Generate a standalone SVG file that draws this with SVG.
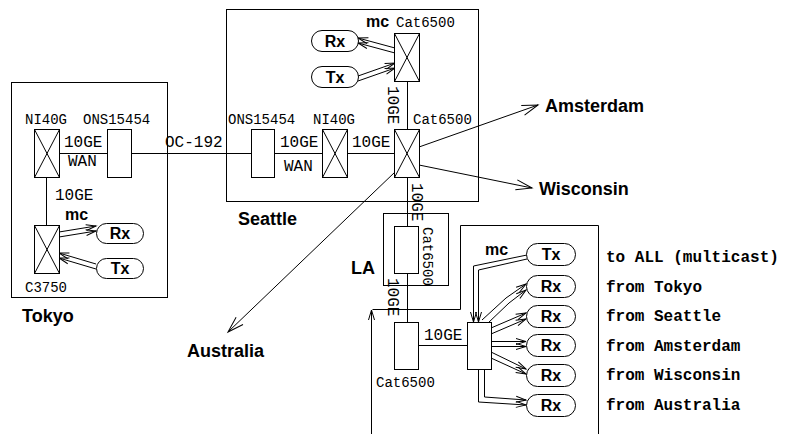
<svg xmlns="http://www.w3.org/2000/svg" width="785" height="434" viewBox="0 0 785 434">
<style>
.bx{fill:#fff;stroke:#000;stroke-width:1}
.ln{fill:none;stroke:#000;stroke-width:1}
.mono{font-family:"Liberation Mono",monospace;font-size:14px;fill:#000}
.m16{font-family:"Liberation Mono",monospace;font-size:16px;fill:#000}
.mb{font-family:"Liberation Mono",monospace;font-size:16px;font-weight:bold;fill:#000}
.b{font-family:"Liberation Sans",Arial,sans-serif;font-weight:bold;font-size:18px;fill:#000}
.b16{font-family:"Liberation Sans",Arial,sans-serif;font-weight:bold;font-size:16px;fill:#000}
.pt{font-family:"Liberation Sans",Arial,sans-serif;font-weight:bold;font-size:16px;fill:#000;text-anchor:middle}
.a{fill:none;stroke:#000;stroke-width:1;marker-end:url(#sa)}
.A{fill:none;stroke:#000;stroke-width:1;marker-end:url(#la)}
</style>
<defs>
<marker id="sa" markerUnits="userSpaceOnUse" markerWidth="12" markerHeight="8" refX="10" refY="3" orient="auto" overflow="visible">
<path d="M0,0 L10,3 L0,6" fill="none" stroke="#000" stroke-width="1"/>
</marker>
<marker id="la" markerUnits="userSpaceOnUse" markerWidth="18" markerHeight="12" refX="16" refY="5" orient="auto" overflow="visible">
<path d="M0,0 L16,5 L0,10" fill="none" stroke="#000" stroke-width="1"/>
</marker>
<g id="xsw"><rect class="bx" x="0" y="0" width="25" height="48"/><path class="ln" d="M0,0 L25,48 M25,0 L0,48"/></g>
</defs>
<rect width="785" height="434" fill="#fff"/>

<g id="tokyo-site">
<rect class="ln" x="11.5" y="82.5" width="156" height="215"/>
<text class="b" x="22" y="322">Tokyo</text>
</g>
<g id="seattle-site">
<rect class="ln" x="226.5" y="9.5" width="252" height="192"/>
<text class="b" x="238" y="225">Seattle</text>
</g>
<g id="la-site">
<rect class="ln" x="383.5" y="213.5" width="65" height="72"/>
<text class="b" x="351" y="274">LA</text>
</g>
<g id="panel">
<path class="ln" d="M372.5,309.5 H460.5 V225.5 H598.5 V434"/>
</g>

<g id="connectors">
<line class="ln" x1="59" y1="153.5" x2="107" y2="153.5"/>
<line class="ln" x1="131" y1="153.5" x2="251" y2="153.5"/>
<line class="ln" x1="275" y1="153.5" x2="322" y2="153.5"/>
<line class="ln" x1="347" y1="153.5" x2="395" y2="153.5"/>
<line class="ln" x1="46.5" y1="177" x2="46.5" y2="225"/>
<line class="ln" x1="407.5" y1="81" x2="407.5" y2="129"/>
<line class="ln" x1="407.5" y1="177" x2="407.5" y2="226"/>
<line class="ln" x1="407.5" y1="273" x2="407.5" y2="322"/>
<line class="ln" x1="418" y1="345.5" x2="467" y2="345.5"/>
<line class="a" x1="59" y1="232" x2="96" y2="226"/>
<line class="a" x1="59" y1="237" x2="96" y2="231"/>
<line class="a" x1="96" y1="264" x2="59" y2="253"/>
<line class="a" x1="96" y1="269" x2="59" y2="258"/>
<line class="a" x1="395" y1="48" x2="358" y2="38"/>
<line class="a" x1="395" y1="53" x2="358" y2="43"/>
<line class="a" x1="358" y1="76" x2="395" y2="63"/>
<line class="a" x1="358" y1="81" x2="395" y2="68"/>
<line class="A" x1="419" y1="147" x2="538" y2="105"/>
<line class="A" x1="419" y1="165" x2="532" y2="188"/>
<line class="A" x1="395" y1="172" x2="228" y2="332"/>
<line class="a" x1="371.5" y1="434" x2="371.5" y2="310"/>
<path class="a" d="M527,255 L473.5,266 V322"/>
<path class="a" d="M527,259 L478.5,270 V322"/>
<path class="a" d="M482,320 L506,298 L526,284"/>
<path class="a" d="M488,323 L509,303 L526,290"/>
<path class="a" d="M491,328 L526,313"/>
<path class="a" d="M491,334 L526,319"/>
<path class="a" d="M491,341.5 L526,341.5"/>
<path class="a" d="M491,346.5 L526,346.5"/>
<path class="a" d="M491,352 L526,369"/>
<path class="a" d="M491,358 L526,374"/>
<path class="a" d="M478.5,369 V402 L526,405"/>
<path class="a" d="M484.5,369 V397 L526,400"/>
</g>

<g id="tokyo-ni40g"><use href="#xsw" x="34.5" y="129.5"/><text class="mono" x="25" y="124">NI40G</text></g>
<g id="tokyo-ons"><rect class="bx" x="107.5" y="129.5" width="24" height="48"/><text class="mono" x="83" y="124">ONS15454</text></g>
<g id="tokyo-c3750"><use href="#xsw" x="34.5" y="225.5"/><text class="mono" x="25" y="292">C3750</text></g>
<g id="tokyo-rx"><rect class="bx" x="96.5" y="223.5" width="47" height="20" rx="10"/><text class="pt" x="120" y="239">Rx</text></g>
<g id="tokyo-tx"><rect class="bx" x="96.5" y="258.5" width="47" height="20" rx="10"/><text class="pt" x="120" y="274">Tx</text></g>
<g id="tokyo-labels">
<text class="m16" x="64" y="147">10GE</text>
<text class="m16" x="68" y="166">WAN</text>
<text class="m16" x="165" y="147">OC-192</text>
<text class="m16" x="55" y="200">10GE</text>
<text class="b16" x="65" y="220">mc</text>
</g>

<g id="seattle-ons"><rect class="bx" x="251.5" y="129.5" width="23" height="48"/><text class="mono" x="228" y="124">ONS15454</text></g>
<g id="seattle-ni40g"><use href="#xsw" x="322.5" y="129.5"/><text class="mono" x="313" y="124">NI40G</text></g>
<g id="seattle-cat-main"><use href="#xsw" x="394.5" y="129.5"/><text class="mono" x="413" y="124">Cat6500</text></g>
<g id="seattle-cat-mc"><use href="#xsw" x="394.5" y="33.5"/><text class="mono" x="396" y="27">Cat6500</text><text class="b16" x="366" y="27">mc</text></g>
<g id="seattle-rx"><rect class="bx" x="311.5" y="30.5" width="47" height="21" rx="10.5"/><text class="pt" x="335" y="47">Rx</text></g>
<g id="seattle-tx"><rect class="bx" x="311.5" y="66.5" width="47" height="21" rx="10.5"/><text class="pt" x="335" y="83">Tx</text></g>
<g id="seattle-labels">
<text class="m16" x="280" y="147">10GE</text>
<text class="m16" x="284" y="171">WAN</text>
<text class="m16" x="352" y="147">10GE</text>
<text class="m16" transform="translate(388,86) rotate(90)">10GE</text>
<text class="m16" transform="translate(412,183) rotate(90)">10GE</text>
</g>

<g id="la-cat"><rect class="bx" x="394.5" y="226.5" width="24" height="47"/><text class="mono" transform="translate(423,227) rotate(90)">Cat6500</text></g>
<g id="la-labels"><text class="m16" transform="translate(388,278) rotate(90)">10GE</text></g>
<g id="cat-bottom"><rect class="bx" x="394.5" y="322.5" width="24" height="47"/><text class="mono" x="376" y="387">Cat6500</text><text class="m16" x="424" y="340">10GE</text></g>
<g id="hub"><rect class="bx" x="467.5" y="322.5" width="24" height="47"/><text class="b16" x="485" y="255">mc</text></g>

<g id="p-tx"><rect class="bx" x="526.5" y="243.5" width="49" height="22" rx="11"/><text class="pt" x="551" y="260">Tx</text><text class="mb" x="606" y="262">to ALL (multicast)</text></g>
<g id="p-rx1"><rect class="bx" x="526.5" y="275.5" width="49" height="22" rx="11"/><text class="pt" x="551" y="292">Rx</text><text class="mb" x="606" y="292">from Tokyo</text></g>
<g id="p-rx2"><rect class="bx" x="526.5" y="305.5" width="49" height="22" rx="11"/><text class="pt" x="551" y="322">Rx</text><text class="mb" x="606" y="321">from Seattle</text></g>
<g id="p-rx3"><rect class="bx" x="526.5" y="334.5" width="49" height="22" rx="11"/><text class="pt" x="551" y="351">Rx</text><text class="mb" x="606" y="351">from Amsterdam</text></g>
<g id="p-rx4"><rect class="bx" x="526.5" y="364.5" width="49" height="22" rx="11"/><text class="pt" x="551" y="381">Rx</text><text class="mb" x="606" y="380">from Wisconsin</text></g>
<g id="p-rx5"><rect class="bx" x="526.5" y="394.5" width="49" height="22" rx="11"/><text class="pt" x="551" y="411">Rx</text><text class="mb" x="606" y="410">from Australia</text></g>

<g id="amsterdam"><text class="b" x="545" y="112">Amsterdam</text></g>
<g id="wisconsin"><text class="b" x="539" y="195">Wisconsin</text></g>
<g id="australia"><text class="b" x="187" y="357">Australia</text></g>
</svg>
